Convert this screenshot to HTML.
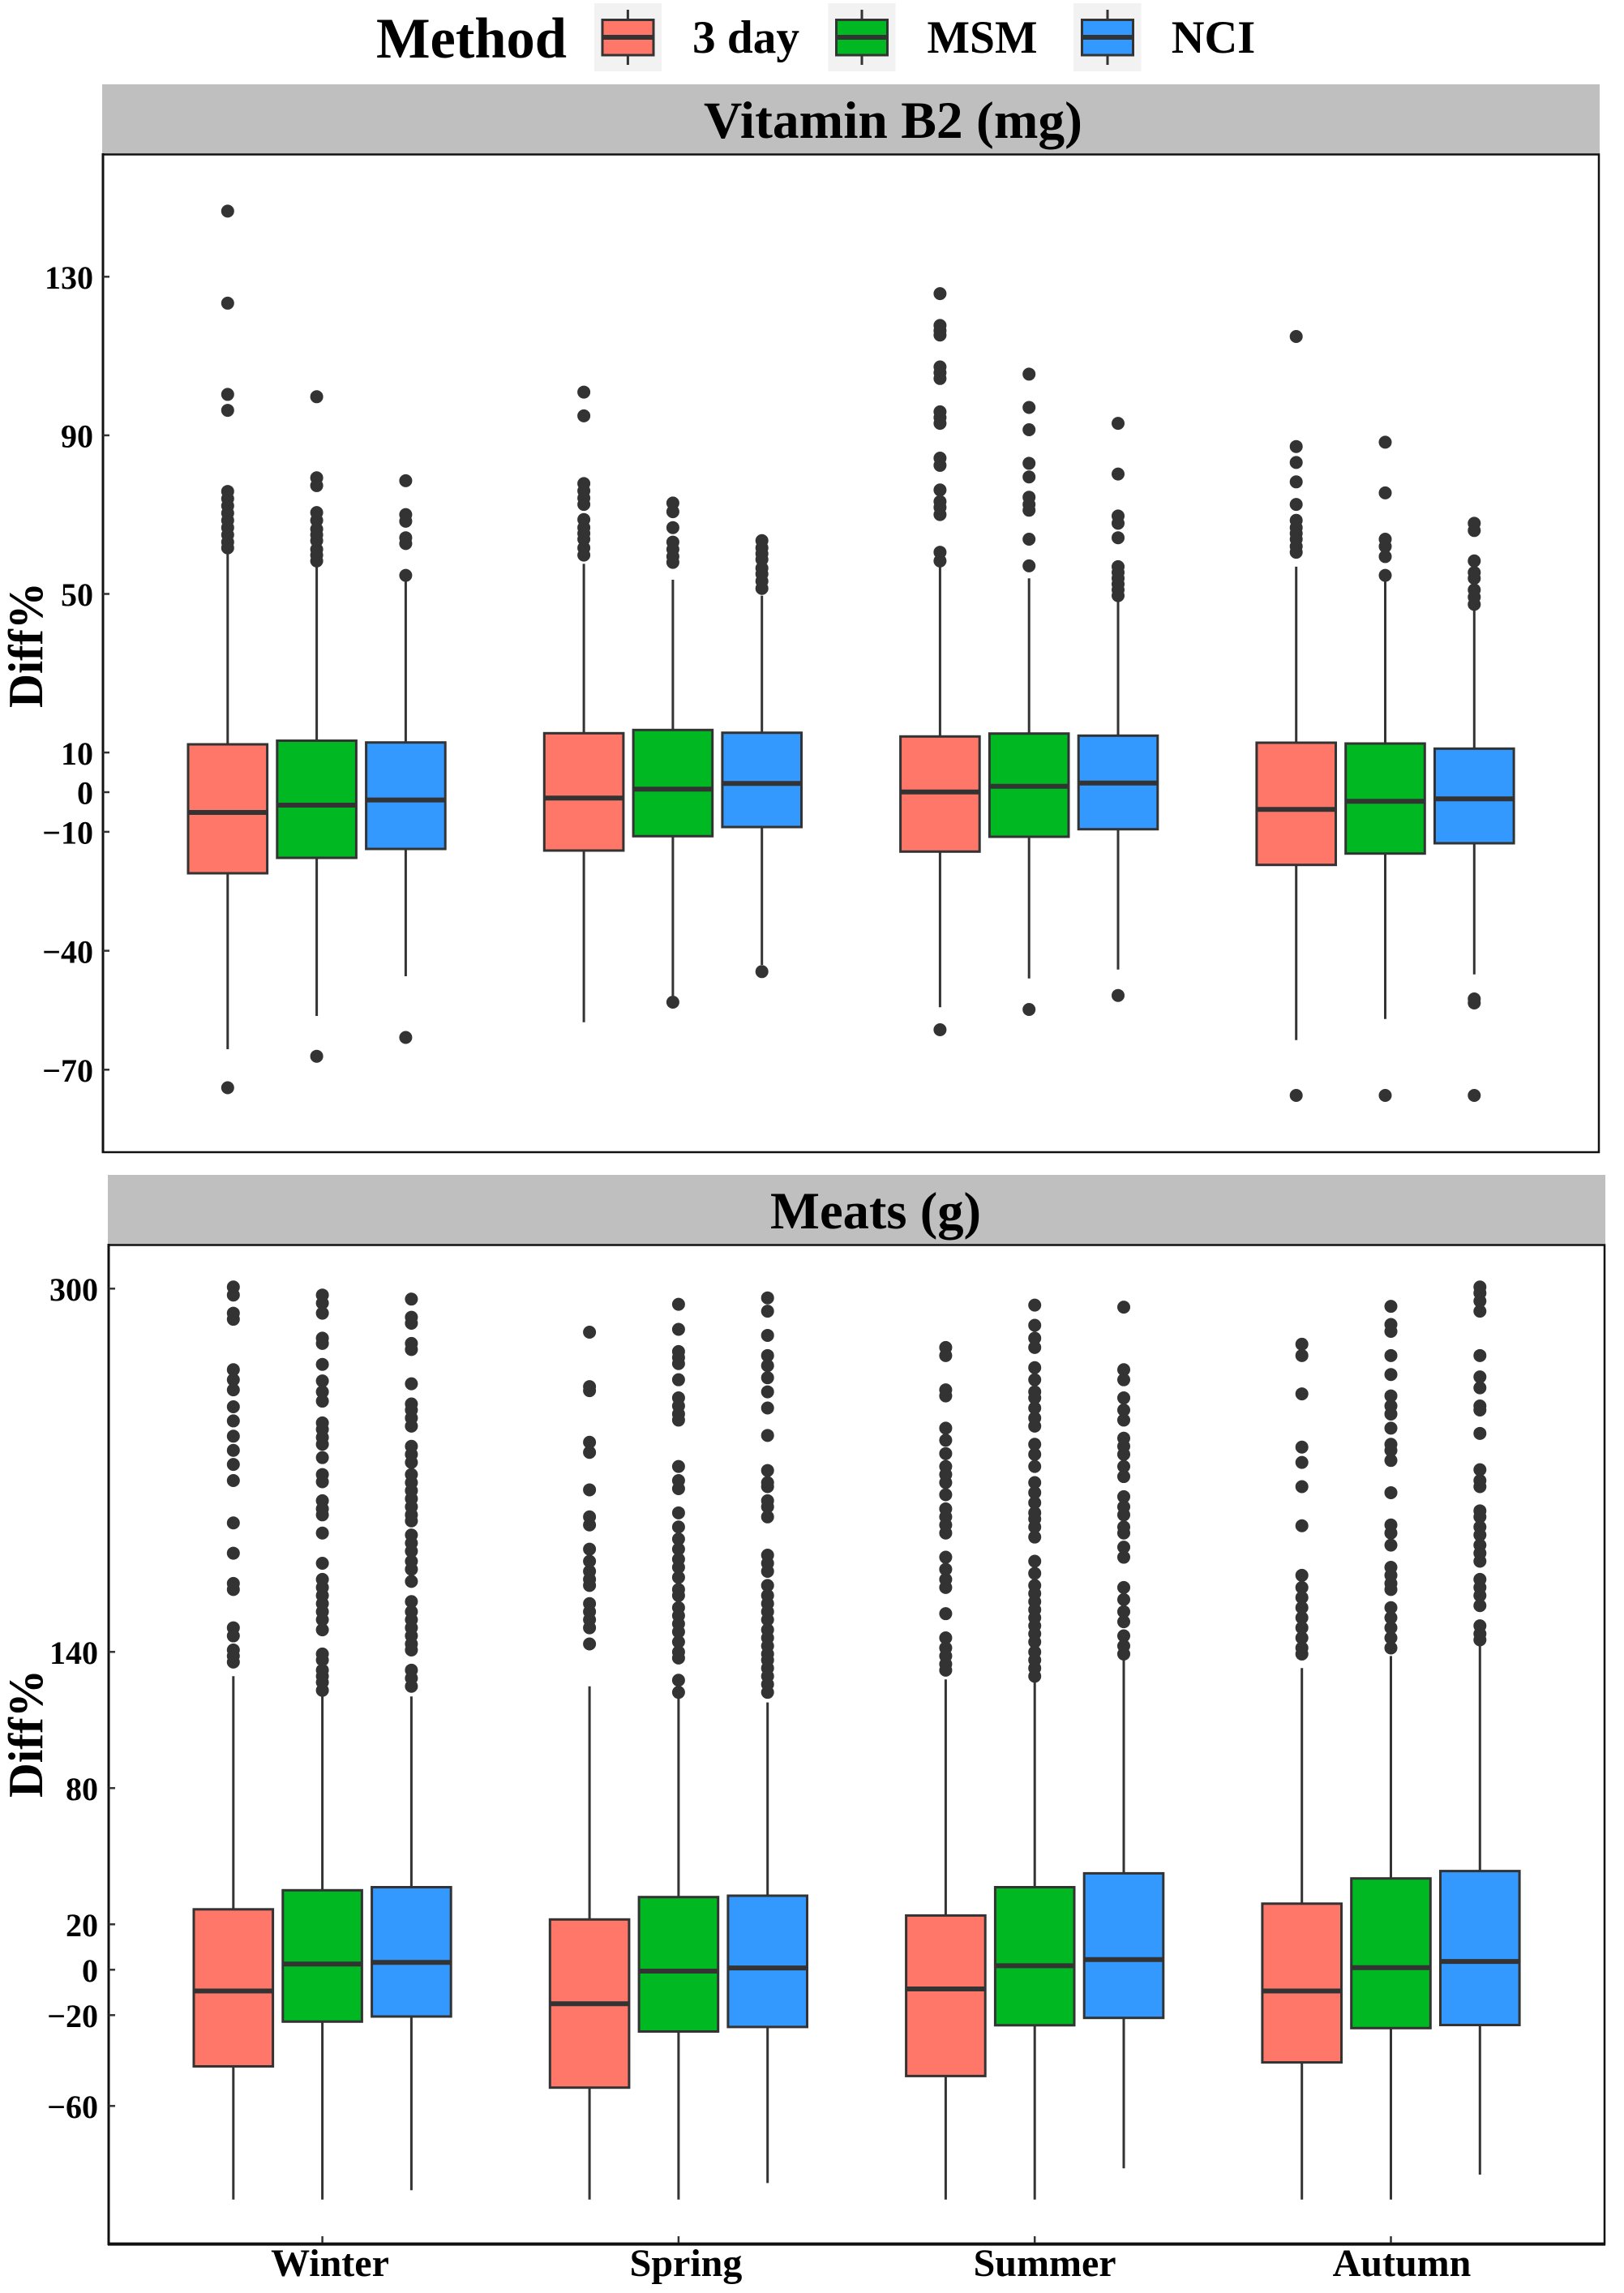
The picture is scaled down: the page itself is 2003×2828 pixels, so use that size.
<!DOCTYPE html>
<html><head><meta charset="utf-8">
<style>
html,body{margin:0;padding:0;background:#fff;}
svg{display:block;}
text{font-family:"Liberation Serif","Times New Roman",serif;font-weight:bold;fill:#000;}
.bx{stroke:#333;stroke-width:3;}
.wk{stroke:#333;stroke-width:3;}
.md{stroke:#333;stroke-width:6;}
.od{fill:none;stroke:#333;stroke-width:16;stroke-linecap:round;}
.tk{stroke:#333;stroke-width:2.5;}
</style></head>
<body>
<svg width="2003" height="2828" viewBox="0 0 2003 2828" xmlns="http://www.w3.org/2000/svg">
<rect width="2003" height="2828" fill="#fff"/>

<!-- Legend -->
<text x="464" y="71" font-size="71" textLength="235" lengthAdjust="spacingAndGlyphs">Method</text>
<rect x="733" y="4" width="83" height="84" fill="#f2f2f2"/>
<line x1="774.4" y1="12" x2="774.4" y2="80" class="wk"/>
<rect x="743" y="24.5" width="63" height="43.5" fill="#FF7769" class="bx"/>
<line x1="743" y1="46" x2="806" y2="46" class="md" stroke-width="5"/>
<text x="854" y="65" font-size="57" textLength="132" lengthAdjust="spacingAndGlyphs">3 day</text>

<rect x="1021.5" y="4" width="83" height="84" fill="#f2f2f2"/>
<line x1="1063" y1="12" x2="1063" y2="80" class="wk"/>
<rect x="1031.5" y="24.5" width="63" height="43.5" fill="#00B822" class="bx"/>
<line x1="1031.5" y1="46" x2="1094.5" y2="46" class="md" stroke-width="5"/>
<text x="1143.5" y="65" font-size="57" textLength="136" lengthAdjust="spacingAndGlyphs">MSM</text>

<rect x="1324" y="4" width="83.6" height="84" fill="#f2f2f2"/>
<line x1="1366" y1="12" x2="1366" y2="80" class="wk"/>
<rect x="1334.5" y="24.5" width="63" height="43.5" fill="#3399FF" class="bx"/>
<line x1="1334.5" y1="46" x2="1397.5" y2="46" class="md" stroke-width="5"/>
<text x="1444.7" y="65" font-size="57" textLength="103.5" lengthAdjust="spacingAndGlyphs">NCI</text>

<!-- ================= TOP PANEL ================= -->
<rect x="126" y="104" width="1847" height="86" fill="#bfbfbf"/>
<text x="868" y="170" font-size="65" textLength="467" lengthAdjust="spacingAndGlyphs">Vitamin B2 (mg)</text>

<g class="wk">
<line x1="280.8" y1="682.9" x2="280.8" y2="1294"/>
<line x1="390.6" y1="695.4" x2="390.6" y2="1253"/>
<line x1="500.4" y1="715" x2="500.4" y2="1204"/>
<line x1="720.1" y1="695.4" x2="720.1" y2="1260.7"/>
<line x1="829.9" y1="715" x2="829.9" y2="1228"/>
<line x1="939.7" y1="734.6" x2="939.7" y2="1190"/>
<line x1="1159.4" y1="698.9" x2="1159.4" y2="1242.3"/>
<line x1="1269.2" y1="713.2" x2="1269.2" y2="1206.7"/>
<line x1="1379" y1="736.4" x2="1379" y2="1195.7"/>
<line x1="1598.7" y1="698.9" x2="1598.7" y2="1282.7"/>
<line x1="1708.5" y1="716.8" x2="1708.5" y2="1256.7"/>
<line x1="1818.3" y1="750" x2="1818.3" y2="1201.7"/>
</g>
<rect class="bx" fill="#FF7769" x="232" y="918" width="97.6" height="159"/>
<rect class="bx" fill="#00B822" x="341.8" y="913.5" width="97.6" height="144.5"/>
<rect class="bx" fill="#3399FF" x="451.6" y="915.7" width="97.6" height="131.3"/>
<rect class="bx" fill="#FF7769" x="671.3" y="904.3" width="97.6" height="144.7"/>
<rect class="bx" fill="#00B822" x="781.1" y="900.3" width="97.6" height="131"/>
<rect class="bx" fill="#3399FF" x="890.9" y="903.7" width="97.6" height="116.3"/>
<rect class="bx" fill="#FF7769" x="1110.6" y="908.3" width="97.6" height="142"/>
<rect class="bx" fill="#00B822" x="1220.4" y="904.7" width="97.6" height="127.3"/>
<rect class="bx" fill="#3399FF" x="1330.2" y="907.3" width="97.6" height="115.4"/>
<rect class="bx" fill="#FF7769" x="1549.9" y="916" width="97.6" height="150.7"/>
<rect class="bx" fill="#00B822" x="1659.7" y="917" width="97.6" height="135.7"/>
<rect class="bx" fill="#3399FF" x="1769.5" y="923.3" width="97.6" height="116.7"/>
<g class="md">
<line x1="232" y1="1002" x2="329.6" y2="1002"/>
<line x1="341.8" y1="993" x2="439.4" y2="993"/>
<line x1="451.6" y1="986.6" x2="549.2" y2="986.6"/>
<line x1="671.3" y1="984.3" x2="768.9" y2="984.3"/>
<line x1="781.1" y1="973.3" x2="878.7" y2="973.3"/>
<line x1="890.9" y1="966.3" x2="988.5" y2="966.3"/>
<line x1="1110.6" y1="976.7" x2="1208.2" y2="976.7"/>
<line x1="1220.4" y1="969.7" x2="1318" y2="969.7"/>
<line x1="1330.2" y1="965.7" x2="1427.8" y2="965.7"/>
<line x1="1549.9" y1="998.3" x2="1647.5" y2="998.3"/>
<line x1="1659.7" y1="988.3" x2="1757.3" y2="988.3"/>
<line x1="1769.5" y1="985.3" x2="1867.1" y2="985.3"/>
</g>
<g fill="#333">
<circle cx="280.8" cy="1341.5" r="8"/>
<circle cx="390.6" cy="1302.7" r="8"/>
<circle cx="500.4" cy="1279.5" r="8"/>
<circle cx="829.9" cy="1236" r="8"/>
<circle cx="939.7" cy="1198.3" r="8"/>
<circle cx="1159.4" cy="1270" r="8"/>
<circle cx="1269.2" cy="1245" r="8"/>
<circle cx="1379" cy="1227.7" r="8"/>
<circle cx="1598.7" cy="1351" r="8"/>
<circle cx="1708.5" cy="1351" r="8"/>
<circle cx="1818.3" cy="1232" r="8"/>
<circle cx="1818.3" cy="1237" r="8"/>
<circle cx="1818.3" cy="1351" r="8"/>
</g>
<g transform="translate(280.8,190) scale(1,0.357143)"><path class="od" vector-effect="non-scaling-stroke" d="M0 197h0.01M0 515h0.01M0 830h0.01M0 885h0.01M0 1165h0.01M0 1190h0.01M0 1215h0.01M0 1240h0.01M0 1265h0.01M0 1290h0.01M0 1315h0.01M0 1340h0.01M0 1360h0.01"/></g>
<g transform="translate(390.6,190) scale(1,0.357143)"><path class="od" vector-effect="non-scaling-stroke" d="M0 838h0.01M0 1118h0.01M0 1145h0.01M0 1238h0.01M0 1265h0.01M0 1295h0.01M0 1315h0.01M0 1335h0.01M0 1365h0.01M0 1385h0.01M0 1405h0.01"/></g>
<g transform="translate(500.4,190) scale(1,0.357143)"><path class="od" vector-effect="non-scaling-stroke" d="M0 1128h0.01M0 1245h0.01M0 1268h0.01M0 1325h0.01M0 1345h0.01M0 1455h0.01"/></g>
<g transform="translate(720.1,190) scale(1,0.357143)"><path class="od" vector-effect="non-scaling-stroke" d="M0 822h0.01M0 904h0.01M0 1138h0.01M0 1163h0.01M0 1188h0.01M0 1210h0.01M0 1262h0.01M0 1290h0.01M0 1310h0.01M0 1330h0.01M0 1360h0.01M0 1385h0.01"/></g>
<g transform="translate(829.9,190) scale(1,0.357143)"><path class="od" vector-effect="non-scaling-stroke" d="M0 1205h0.01M0 1235h0.01M0 1290h0.01M0 1340h0.01M0 1365h0.01M0 1390h0.01M0 1410h0.01"/></g>
<g transform="translate(939.7,190) scale(1,0.357143)"><path class="od" vector-effect="non-scaling-stroke" d="M0 1335h0.01M0 1360h0.01M0 1380h0.01M0 1400h0.01M0 1430h0.01M0 1450h0.01M0 1475h0.01M0 1500h0.01"/></g>
<g transform="translate(1159.4,190) scale(1,0.357143)"><path class="od" vector-effect="non-scaling-stroke" d="M0 482h0.01M0 592h0.01M0 610h0.01M0 625h0.01M0 735h0.01M0 755h0.01M0 775h0.01M0 890h0.01M0 910h0.01M0 930h0.01M0 1050h0.01M0 1075h0.01M0 1160h0.01M0 1200h0.01M0 1220h0.01M0 1245h0.01M0 1375h0.01M0 1405h0.01"/></g>
<g transform="translate(1269.2,190) scale(1,0.357143)"><path class="od" vector-effect="non-scaling-stroke" d="M0 760h0.01M0 875h0.01M0 952h0.01M0 1068h0.01M0 1115h0.01M0 1185h0.01M0 1210h0.01M0 1230h0.01M0 1330h0.01M0 1422h0.01"/></g>
<g transform="translate(1379,190) scale(1,0.357143)"><path class="od" vector-effect="non-scaling-stroke" d="M0 930h0.01M0 1105h0.01M0 1250h0.01M0 1275h0.01M0 1325h0.01M0 1425h0.01M0 1445h0.01M0 1465h0.01M0 1485h0.01M0 1505h0.01M0 1525h0.01"/></g>
<g transform="translate(1598.7,190) scale(1,0.357143)"><path class="od" vector-effect="non-scaling-stroke" d="M0 630h0.01M0 1010h0.01M0 1065h0.01M0 1132h0.01M0 1210h0.01M0 1265h0.01M0 1290h0.01M0 1310h0.01M0 1330h0.01M0 1355h0.01M0 1375h0.01"/></g>
<g transform="translate(1708.5,190) scale(1,0.357143)"><path class="od" vector-effect="non-scaling-stroke" d="M0 995h0.01M0 1170h0.01M0 1330h0.01M0 1355h0.01M0 1390h0.01M0 1455h0.01"/></g>
<g transform="translate(1818.3,190) scale(1,0.357143)"><path class="od" vector-effect="non-scaling-stroke" d="M0 1275h0.01M0 1300h0.01M0 1405h0.01M0 1445h0.01M0 1465h0.01M0 1505h0.01M0 1530h0.01M0 1555h0.01"/></g>

<rect x="127" y="190.5" width="1845" height="1230.5" fill="none" stroke="#111" stroke-width="2.5"/>
<line x1="127" y1="189" x2="127" y2="1422" stroke="#111" stroke-width="3"/>
<g class="tk">
<line x1="127" y1="341.3" x2="135" y2="341.3"/>
<line x1="127" y1="536.9" x2="135" y2="536.9"/>
<line x1="127" y1="732.5" x2="135" y2="732.5"/>
<line x1="127" y1="928.1" x2="135" y2="928.1"/>
<line x1="127" y1="977" x2="135" y2="977"/>
<line x1="127" y1="1025.9" x2="135" y2="1025.9"/>
<line x1="127" y1="1172.6" x2="135" y2="1172.6"/>
<line x1="127" y1="1319.3" x2="135" y2="1319.3"/>
</g>
<g font-size="40" text-anchor="end">
<text x="115" y="356">130</text>
<text x="115" y="551.6">90</text>
<text x="115" y="747.2">50</text>
<text x="115" y="942.8">10</text>
<text x="115" y="991.7">0</text>
<text x="115" y="1040.6">−10</text>
<text x="115" y="1187.3">−40</text>
<text x="115" y="1334">−70</text>
</g>
<text transform="translate(52,795.5) rotate(-90)" font-size="60" text-anchor="middle" textLength="155" lengthAdjust="spacingAndGlyphs">Diff%</text>

<!-- ================= BOTTOM PANEL ================= -->
<rect x="133" y="1449" width="1847" height="86" fill="#bfbfbf"/>
<text x="950" y="1515" font-size="65" textLength="260" lengthAdjust="spacingAndGlyphs">Meats (g)</text>

<g class="wk">
<line x1="287.8" y1="2067.3" x2="287.8" y2="2712.7"/>
<line x1="397.6" y1="2092.2" x2="397.6" y2="2712.7"/>
<line x1="507.4" y1="2092.2" x2="507.4" y2="2701.2"/>
<line x1="727.1" y1="2079.7" x2="727.1" y2="2712.7"/>
<line x1="836.9" y1="2094.6" x2="836.9" y2="2712.7"/>
<line x1="946.7" y1="2099.6" x2="946.7" y2="2692.4"/>
<line x1="1166.4" y1="2071.3" x2="1166.4" y2="2712.7"/>
<line x1="1276.2" y1="2072.3" x2="1276.2" y2="2712.7"/>
<line x1="1386" y1="2047.4" x2="1386" y2="2674.3"/>
<line x1="1605.7" y1="2057.3" x2="1605.7" y2="2712.7"/>
<line x1="1715.5" y1="2042.4" x2="1715.5" y2="2712.7"/>
<line x1="1825.3" y1="2027.5" x2="1825.3" y2="2682"/>
</g>
<rect class="bx" fill="#FF7769" x="239" y="2354.8" width="97.6" height="193.7"/>
<rect class="bx" fill="#00B822" x="348.8" y="2331.3" width="97.6" height="162"/>
<rect class="bx" fill="#3399FF" x="458.6" y="2327.5" width="97.6" height="159.5"/>
<rect class="bx" fill="#FF7769" x="678.3" y="2367.3" width="97.6" height="207.4"/>
<rect class="bx" fill="#00B822" x="788.1" y="2339.7" width="97.6" height="165.8"/>
<rect class="bx" fill="#3399FF" x="897.9" y="2338" width="97.6" height="161.9"/>
<rect class="bx" fill="#FF7769" x="1117.6" y="2362.4" width="97.6" height="198"/>
<rect class="bx" fill="#00B822" x="1227.4" y="2327.5" width="97.6" height="170.3"/>
<rect class="bx" fill="#3399FF" x="1337.2" y="2310.4" width="97.6" height="178.3"/>
<rect class="bx" fill="#FF7769" x="1556.9" y="2347.8" width="97.6" height="195.8"/>
<rect class="bx" fill="#00B822" x="1666.7" y="2316.7" width="97.6" height="184.6"/>
<rect class="bx" fill="#3399FF" x="1776.5" y="2307.6" width="97.6" height="189.9"/>
<g class="md">
<line x1="239" y1="2455.5" x2="336.6" y2="2455.5"/>
<line x1="348.8" y1="2422.3" x2="446.4" y2="2422.3"/>
<line x1="458.6" y1="2420.2" x2="556.2" y2="2420.2"/>
<line x1="678.3" y1="2471.2" x2="775.9" y2="2471.2"/>
<line x1="788.1" y1="2431" x2="885.7" y2="2431"/>
<line x1="897.9" y1="2427.1" x2="995.5" y2="2427.1"/>
<line x1="1117.6" y1="2453" x2="1215.2" y2="2453"/>
<line x1="1227.4" y1="2424.4" x2="1325" y2="2424.4"/>
<line x1="1337.2" y1="2416.7" x2="1434.8" y2="2416.7"/>
<line x1="1556.9" y1="2455.5" x2="1654.5" y2="2455.5"/>
<line x1="1666.7" y1="2426.8" x2="1764.3" y2="2426.8"/>
<line x1="1776.5" y1="2419.1" x2="1874.1" y2="2419.1"/>
</g>
<g transform="translate(287.8,1540) scale(1,0.49744)"><path class="od" vector-effect="non-scaling-stroke" d="M0 95h0.01M0 115h0.01M0 160h0.01M0 175h0.01M0 300h0.01M0 325h0.01M0 350h0.01M0 392h0.01M0 427h0.01M0 465h0.01M0 500h0.01M0 535h0.01M0 575h0.01M0 680h0.01M0 755h0.01M0 830h0.01M0 845h0.01M0 940h0.01M0 960h0.01M0 995h0.01M0 1010h0.01M0 1025h0.01"/></g>
<g transform="translate(397.6,1540) scale(1,0.49744)"><path class="od" vector-effect="non-scaling-stroke" d="M0 115h0.01M0 135h0.01M0 160h0.01M0 222h0.01M0 235h0.01M0 287h0.01M0 328h0.01M0 355h0.01M0 378h0.01M0 432h0.01M0 448h0.01M0 468h0.01M0 485h0.01M0 518h0.01M0 560h0.01M0 578h0.01M0 625h0.01M0 645h0.01M0 660h0.01M0 705h0.01M0 780h0.01M0 820h0.01M0 840h0.01M0 860h0.01M0 880h0.01M0 900h0.01M0 920h0.01M0 945h0.01M0 1005h0.01M0 1020h0.01M0 1045h0.01M0 1060h0.01M0 1075h0.01M0 1095h0.01"/></g>
<g transform="translate(507.4,1540) scale(1,0.49744)"><path class="od" vector-effect="non-scaling-stroke" d="M0 125h0.01M0 170h0.01M0 185h0.01M0 235h0.01M0 250h0.01M0 335h0.01M0 385h0.01M0 400h0.01M0 420h0.01M0 440h0.01M0 490h0.01M0 510h0.01M0 530h0.01M0 560h0.01M0 580h0.01M0 600h0.01M0 620h0.01M0 640h0.01M0 660h0.01M0 675h0.01M0 710h0.01M0 730h0.01M0 750h0.01M0 775h0.01M0 795h0.01M0 825h0.01M0 875h0.01M0 900h0.01M0 920h0.01M0 940h0.01M0 960h0.01M0 980h0.01M0 995h0.01M0 1045h0.01M0 1065h0.01M0 1085h0.01"/></g>
<g transform="translate(727.1,1540) scale(1,0.49744)"><path class="od" vector-effect="non-scaling-stroke" d="M0 207h0.01M0 342h0.01M0 352h0.01M0 480h0.01M0 505h0.01M0 598h0.01M0 665h0.01M0 685h0.01M0 745h0.01M0 775h0.01M0 800h0.01M0 820h0.01M0 835h0.01M0 880h0.01M0 900h0.01M0 920h0.01M0 940h0.01M0 980h0.01"/></g>
<g transform="translate(836.9,1540) scale(1,0.49744)"><path class="od" vector-effect="non-scaling-stroke" d="M0 138h0.01M0 200h0.01M0 255h0.01M0 270h0.01M0 285h0.01M0 325h0.01M0 370h0.01M0 390h0.01M0 410h0.01M0 425h0.01M0 540h0.01M0 575h0.01M0 595h0.01M0 655h0.01M0 690h0.01M0 720h0.01M0 745h0.01M0 770h0.01M0 790h0.01M0 815h0.01M0 845h0.01M0 860h0.01M0 890h0.01M0 910h0.01M0 930h0.01M0 950h0.01M0 975h0.01M0 1000h0.01M0 1015h0.01M0 1070h0.01M0 1100h0.01"/></g>
<g transform="translate(946.7,1540) scale(1,0.49744)"><path class="od" vector-effect="non-scaling-stroke" d="M0 122h0.01M0 155h0.01M0 215h0.01M0 265h0.01M0 290h0.01M0 320h0.01M0 355h0.01M0 395h0.01M0 463h0.01M0 550h0.01M0 580h0.01M0 590h0.01M0 625h0.01M0 640h0.01M0 665h0.01M0 760h0.01M0 780h0.01M0 800h0.01M0 835h0.01M0 860h0.01M0 880h0.01M0 900h0.01M0 920h0.01M0 945h0.01M0 965h0.01M0 985h0.01M0 1005h0.01M0 1020h0.01M0 1040h0.01M0 1060h0.01M0 1080h0.01M0 1100h0.01"/></g>
<g transform="translate(1166.4,1540) scale(1,0.49744)"><path class="od" vector-effect="non-scaling-stroke" d="M0 245h0.01M0 265h0.01M0 350h0.01M0 365h0.01M0 445h0.01M0 475h0.01M0 508h0.01M0 540h0.01M0 560h0.01M0 580h0.01M0 610h0.01M0 645h0.01M0 665h0.01M0 685h0.01M0 705h0.01M0 765h0.01M0 795h0.01M0 820h0.01M0 840h0.01M0 905h0.01M0 965h0.01M0 990h0.01M0 1010h0.01M0 1030h0.01M0 1045h0.01"/></g>
<g transform="translate(1276.2,1540) scale(1,0.49744)"><path class="od" vector-effect="non-scaling-stroke" d="M0 140h0.01M0 190h0.01M0 222h0.01M0 245h0.01M0 295h0.01M0 325h0.01M0 355h0.01M0 370h0.01M0 395h0.01M0 420h0.01M0 440h0.01M0 485h0.01M0 510h0.01M0 540h0.01M0 580h0.01M0 605h0.01M0 630h0.01M0 655h0.01M0 670h0.01M0 690h0.01M0 715h0.01M0 775h0.01M0 805h0.01M0 835h0.01M0 855h0.01M0 875h0.01M0 895h0.01M0 915h0.01M0 935h0.01M0 955h0.01M0 975h0.01M0 1000h0.01M0 1020h0.01M0 1040h0.01M0 1060h0.01"/></g>
<g transform="translate(1386,1540) scale(1,0.49744)"><path class="od" vector-effect="non-scaling-stroke" d="M0 145h0.01M0 300h0.01M0 325h0.01M0 370h0.01M0 400h0.01M0 425h0.01M0 470h0.01M0 490h0.01M0 510h0.01M0 540h0.01M0 565h0.01M0 615h0.01M0 640h0.01M0 660h0.01M0 690h0.01M0 705h0.01M0 740h0.01M0 765h0.01M0 840h0.01M0 870h0.01M0 900h0.01M0 925h0.01M0 960h0.01M0 985h0.01M0 1005h0.01"/></g>
<g transform="translate(1605.7,1540) scale(1,0.49744)"><path class="od" vector-effect="non-scaling-stroke" d="M0 237h0.01M0 265h0.01M0 360h0.01M0 492h0.01M0 530h0.01M0 590h0.01M0 687h0.01M0 810h0.01M0 840h0.01M0 865h0.01M0 890h0.01M0 915h0.01M0 940h0.01M0 965h0.01M0 990h0.01M0 1005h0.01"/></g>
<g transform="translate(1715.5,1540) scale(1,0.49744)"><path class="od" vector-effect="non-scaling-stroke" d="M0 143h0.01M0 188h0.01M0 205h0.01M0 265h0.01M0 312h0.01M0 365h0.01M0 390h0.01M0 410h0.01M0 445h0.01M0 485h0.01M0 500h0.01M0 525h0.01M0 605h0.01M0 685h0.01M0 705h0.01M0 735h0.01M0 790h0.01M0 810h0.01M0 830h0.01M0 845h0.01M0 890h0.01M0 915h0.01M0 940h0.01M0 965h0.01M0 990h0.01"/></g>
<g transform="translate(1825.3,1540) scale(1,0.49744)"><path class="od" vector-effect="non-scaling-stroke" d="M0 95h0.01M0 110h0.01M0 130h0.01M0 155h0.01M0 265h0.01M0 318h0.01M0 345h0.01M0 390h0.01M0 400h0.01M0 458h0.01M0 548h0.01M0 575h0.01M0 590h0.01M0 650h0.01M0 665h0.01M0 690h0.01M0 710h0.01M0 735h0.01M0 755h0.01M0 775h0.01M0 820h0.01M0 840h0.01M0 860h0.01M0 885h0.01M0 935h0.01M0 955h0.01M0 970h0.01"/></g>

<rect x="134" y="1535.5" width="1845" height="1232" fill="none" stroke="#111" stroke-width="2.5"/>
<line x1="134" y1="1534" x2="134" y2="2769" stroke="#111" stroke-width="3"/>
<line x1="133" y1="2767.6" x2="1980" y2="2767.6" stroke="#111" stroke-width="4"/>
<g class="tk">
<line x1="134" y1="1589.3" x2="142" y2="1589.3"/>
<line x1="134" y1="2037.3" x2="142" y2="2037.3"/>
<line x1="134" y1="2205.3" x2="142" y2="2205.3"/>
<line x1="134" y1="2373.3" x2="142" y2="2373.3"/>
<line x1="134" y1="2429.3" x2="142" y2="2429.3"/>
<line x1="134" y1="2485.3" x2="142" y2="2485.3"/>
<line x1="134" y1="2597.3" x2="142" y2="2597.3"/>
<line x1="397.6" y1="2758" x2="397.6" y2="2766"/>
<line x1="836.9" y1="2758" x2="836.9" y2="2766"/>
<line x1="1276.2" y1="2758" x2="1276.2" y2="2766"/>
<line x1="1715.5" y1="2758" x2="1715.5" y2="2766"/>
</g>
<g font-size="40" text-anchor="end">
<text x="121" y="1604">300</text>
<text x="121" y="2052">140</text>
<text x="121" y="2220">80</text>
<text x="121" y="2388">20</text>
<text x="121" y="2444">0</text>
<text x="121" y="2500">−20</text>
<text x="121" y="2612">−60</text>
</g>
<text transform="translate(52,2138) rotate(-90)" font-size="60" text-anchor="middle" textLength="158" lengthAdjust="spacingAndGlyphs">Diff%</text>

<g font-size="48" text-anchor="middle">
<text x="407" y="2807">Winter</text>
<text x="846" y="2807">Spring</text>
<text x="1288.6" y="2807">Summer</text>
<text x="1729" y="2807">Autumn</text>
</g>
</svg>
</body></html>
